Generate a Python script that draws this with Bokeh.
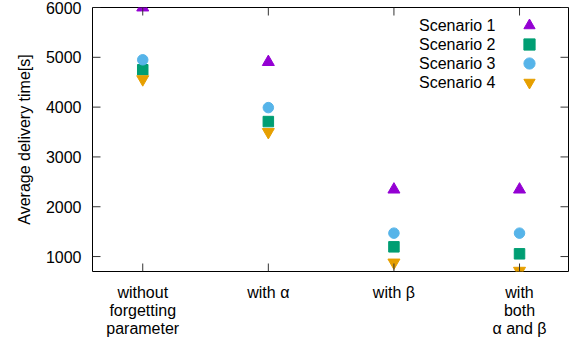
from bokeh.plotting import figure
from bokeh.models import Range1d, FixedTicker, Legend, LegendItem, Label
from bokeh.embed import file_html
from bokeh.resources import INLINE

# ---- data ----
categories = ["without\nforgetting\nparameter", "with α", "with β", "with\nboth\nα and β"]
x_pos = [0, 1, 2, 3]
scenario1 = [6000, 4905, 2345, 2345]
scenario2 = [4750, 3710, 1195, 1055]
scenario3 = [4950, 3990, 1470, 1470]
scenario4 = [4560, 3500, 880, 715]
series_names = ["Scenario 1", "Scenario 2", "Scenario 3", "Scenario 4"]
y_ticks = [1000, 2000, 3000, 4000, 5000, 6000]

colors = ["#9400d3", "#009e73", "#56b4e9", "#e69f00"]
markers = ["triangle", "square", "circle", "inverted_triangle"]
sizes = [12, 10.5, 10.5, 12]
FONT = "Liberation Sans"
FS = "16px"
X0, X1 = -0.4, 3.39
Y0, Y1 = 700, 6000
FW, FH = 476, 264

p = figure(frame_width=FW, frame_height=FH,
           x_range=Range1d(X0, X1), y_range=Range1d(Y0, Y1),
           output_backend="svg", toolbar_location=None,
           min_border_left=92, min_border_right=4, min_border_top=7, min_border_bottom=0)
p.background_fill_color = "white"
p.border_fill_color = "white"
p.grid.visible = False
p.outline_line_color = "black"
p.outline_line_width = 1
p.outline_line_alpha = 1

def style_axis(ax):
    ax.major_tick_in = 0
    ax.major_tick_out = 0
    ax.minor_tick_line_color = None
    ax.axis_line_color = None
    ax.major_label_text_font = FONT
    ax.major_label_text_font_size = FS
    ax.major_label_text_color = "black"

# bottom axis
xa = p.xaxis[0]
xa.ticker = FixedTicker(ticks=x_pos)
xa.major_label_overrides = {x: c for x, c in zip(x_pos, categories)}
style_axis(xa)
xa.major_label_standoff = 12
xa.major_label_text_line_height = 1.07
xa.axis_label_standoff = 0

# left axis
ya = p.yaxis[0]
ya.ticker = FixedTicker(ticks=y_ticks)
style_axis(ya)
ya.major_label_standoff = 11
ya.axis_label = "Average delivery time[s]"
ya.axis_label_text_font = FONT
ya.axis_label_text_font_size = FS
ya.axis_label_text_font_style = "normal"
ya.axis_label_text_color = "black"
ya.axis_label_standoff = 10

renderers = []
for vals, col, mk, sz in zip([scenario1, scenario2, scenario3, scenario4], colors, markers, sizes):
    renderers.append(p.scatter(x=x_pos, y=vals, marker=mk, size=sz,
                               fill_color=col, line_color=col))

# inward tick marks on all four sides (gnuplot style, mirrored), 8 px long
TICK = 8
dx = TICK * (X1 - X0) / FW
dy = TICK * (Y1 - Y0) / FH
TC = "#333333"
ny, nx = len(y_ticks), len(x_pos)
p.segment(x0=[X0] * ny, y0=y_ticks, x1=[X0 + dx] * ny, y1=y_ticks, line_color=TC, line_width=1)
p.segment(x0=[X1] * ny, y0=y_ticks, x1=[X1 - dx] * ny, y1=y_ticks, line_color=TC, line_width=1)
p.segment(x0=x_pos, y0=[Y0] * nx, x1=x_pos, y1=[Y0 + dy] * nx, line_color=TC, line_width=1)
p.segment(x0=x_pos, y0=[Y1] * nx, x1=x_pos, y1=[Y1 - dy] * nx, line_color=TC, line_width=1)

# legend: one symbol per row from Bokeh's legend, texts to their left (gnuplot style)
ROW0, PITCH, BOX = 25, 19, 28
for i, (name, r) in enumerate(zip(series_names, renderers)):
    lg = Legend(items=[LegendItem(label="", renderers=[r])],
                location=(423, 271 - (ROW0 + PITCH * i + BOX // 2)))
    lg.background_fill_alpha = 0
    lg.border_line_color = None
    lg.padding = 0
    lg.margin = 0
    lg.spacing = 0
    lg.glyph_width = BOX
    lg.glyph_height = BOX
    lg.label_height = 0
    lg.label_width = 0
    lg.label_standoff = 0
    p.add_layout(lg, "center")
    p.add_layout(Label(x=495, y=ROW0 + PITCH * i, x_units="canvas", y_units="canvas",
                       text=name, text_align="right", text_baseline="middle",
                       text_font=FONT, text_font_size=FS, text_color="black"))

open("out.html", "w").write(file_html(p, INLINE))
